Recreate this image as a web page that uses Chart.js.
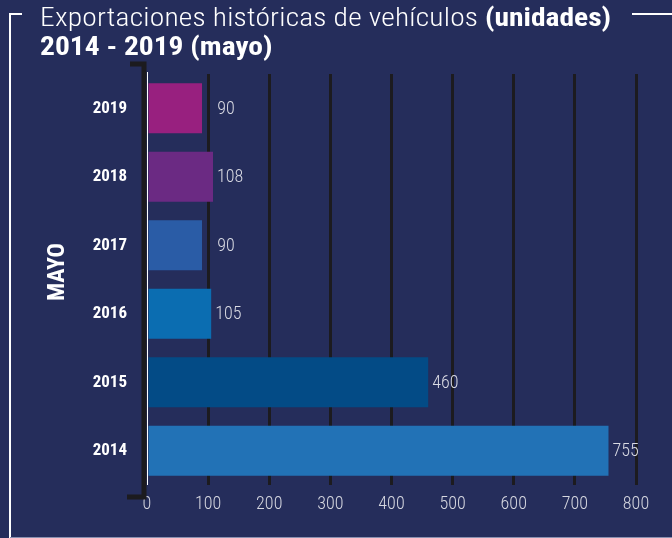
<!DOCTYPE html>
<html><head><meta charset="utf-8">
<script src="https://cdn.jsdelivr.net/npm/chart.js@4.4.1/dist/chart.umd.min.js"></script>
<style>
html,body{margin:0;padding:0;background:#252d5b;}
#wrap{position:relative;width:672px;height:538px;overflow:hidden;background:#252d5b;}
#title{position:absolute;left:40px;top:3px;color:#fff;font-family:"Roboto Condensed","Liberation Sans Narrow",sans-serif;font-weight:300;font-size:25px;line-height:29px;white-space:nowrap;transform:scaleX(1.18);transform-origin:0 0;}
#title .n{letter-spacing:0.17px;}
#title b{font-weight:bold;}
canvas{position:absolute;left:0;top:0;}
</style></head>
<body><div id="wrap"><canvas id="c" width="672" height="538"></canvas>
<div id="title"><span class="n">Exportaciones históricas de vehículos</span> <b>(unidades)</b><br><b>2014 - 2019 (mayo)</b></div></div>
<script>
const categories = ["2019","2018","2017","2016","2015","2014"];
const values = [90,108,90,105,460,755];
const barColors = ["#98207f","#6b2a83","#2a5ca6","#0b6db1","#034b86","#2272b6"];
const xTicks = [0,100,200,300,400,500,600,700,800];
const yTitle = "MAYO";
const FAM = '"Roboto Condensed", "Liberation Sans Narrow", sans-serif';

const frame = {
  id:'frame',
  beforeDraw(chart){
    const ctx = chart.ctx;
    ctx.save();
    ctx.strokeStyle = '#ffffff';
    ctx.lineWidth = 2;
    ctx.beginPath();
    ctx.moveTo(22,14); ctx.lineTo(10,14); ctx.lineTo(10,538);
    ctx.moveTo(632,14); ctx.lineTo(672,14);
    ctx.stroke();
    ctx.strokeStyle = '#8a90b0';
    ctx.lineWidth = 1;
    ctx.beginPath(); ctx.moveTo(10,537.5); ctx.lineTo(672,537.5); ctx.stroke();
    ctx.restore();
  },
  afterDraw(chart){
    const ctx = chart.ctx;
    const xs = chart.scales.x;
    const x = xs.getPixelForValue(0);
    ctx.save();
    ctx.strokeStyle = '#1c1b1f';
    ctx.lineWidth = 5;
    ctx.lineCap = 'butt';
    ctx.beginPath();
    ctx.moveTo(130,64); ctx.lineTo(x-3,64); ctx.lineTo(x-3,497); ctx.lineTo(127,497);
    ctx.stroke();
    ctx.strokeStyle = '#ffffff';
    ctx.lineWidth = 1;
    ctx.beginPath(); ctx.moveTo(x+0.5,chart.chartArea.top-2); ctx.lineTo(x+0.5,chart.chartArea.bottom); ctx.stroke();
    // axis title
    ctx.save();
    ctx.translate(58, 272);
    ctx.rotate(-Math.PI/2);
    ctx.fillStyle = '#ffffff';
    ctx.font = 'bold 24px ' + FAM;
    ctx.textAlign = 'center';
    ctx.textBaseline = 'middle';
    ctx.fillText(yTitle, 0, 0);
    ctx.restore();
    // value labels (nudged past a grid line sitting right at the bar end)
    const meta = chart.getDatasetMeta(0);
    const gridPx = xTicks.slice(1).map(v=>xs.getPixelForValue(v));
    ctx.fillStyle = '#d9dae3';
    ctx.font = '300 18px ' + FAM;
    ctx.textBaseline = 'middle';
    ctx.textAlign = 'left';
    meta.data.forEach((bar,i)=>{
      const t = String(values[i]);
      let lx = bar.x + 4;
      gridPx.forEach(g=>{ if (g - bar.x >= 0 && g - bar.x <= 9) lx = g + 9; });
      ctx.fillText(t, lx, bar.y + 1);
    });
    ctx.restore();
  }
};

new Chart(document.getElementById('c'),{
  type:'bar',
  data:{labels:categories,datasets:[{data:values,backgroundColor:barColors,borderWidth:0,categoryPercentage:0.73,barPercentage:1}]},
  options:{
    indexAxis:'y',
    responsive:false,
    animation:false,
    layout:{padding:{top:74,right:36,left:0,bottom:0}},
    plugins:{legend:{display:false},tooltip:{enabled:false}},
    scales:{
      x:{
        min:0,max:800,
        afterBuildTicks(s){ s.ticks = xTicks.map(v=>({value:v})); },
        afterFit(s){ s.height = 53; },
        grid:{color:(c)=>c.tick && c.tick.value===0 ? 'rgba(0,0,0,0)' : '#1c1b1f',lineWidth:3,drawTicks:false},
        border:{display:false},
        ticks:{color:'#d6d7e0',padding:9,font:{family:FAM,size:18,weight:300}}
      },
      y:{
        afterFit(s){ s.width = 147; },
        grid:{display:false,drawTicks:false},
        border:{display:false},
        ticks:{color:'#ffffff',padding:20,font:{family:FAM,size:17,weight:'bold'}}
      }
    }
  },
  plugins:[frame]
});
</script></body></html>
